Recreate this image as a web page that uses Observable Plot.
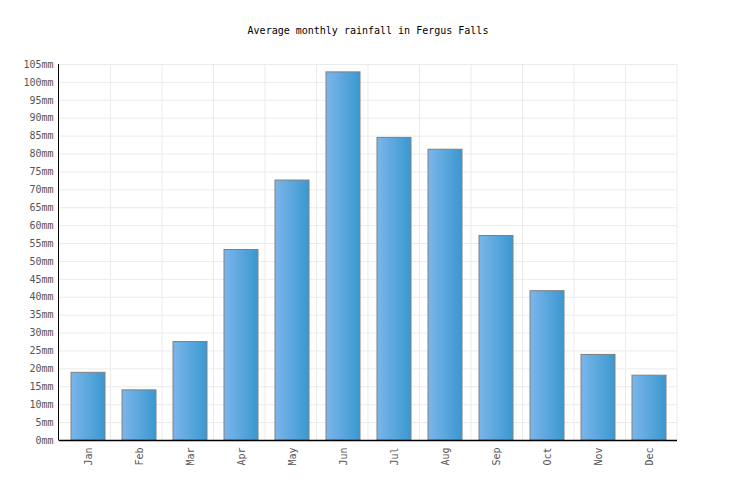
<!DOCTYPE html>
<html>
<head>
<meta charset="utf-8">
<script src="https://cdn.jsdelivr.net/npm/d3@7"></script>
<script src="https://cdn.jsdelivr.net/npm/@observablehq/plot@0.6"></script>
<style>
  body { margin: 0; background: #fff; }
  #title { height: 50px; box-sizing: border-box; padding-top: 25px; line-height: 12px; text-align: center;
           font: 10px "DejaVu Sans Mono", monospace; color: #000; width: 736px; }
</style>
</head>
<body>
<div id="title">Average monthly rainfall in Fergus Falls</div>
<div id="chart"></div>
<script>
const months = ["Jan","Feb","Mar","Apr","May","Jun","Jul","Aug","Sep","Oct","Nov","Dec"];
const rainfall = [18.9, 14.0, 27.5, 53.2, 72.6, 102.8, 84.5, 81.2, 57.1, 41.7, 23.9, 18.1];
const yTicks = d3.range(0, 106, 5);

const data = months.map((m, i) => ({month: m, value: rainfall[i]}));
const NS = "http://www.w3.org/2000/svg";

function gradientDefs() {
  const defs = document.createElementNS(NS, "defs");
  const g = document.createElementNS(NS, "linearGradient");
  g.setAttribute("id", "barGrad");
  g.setAttribute("x1", "0"); g.setAttribute("x2", "1");
  g.setAttribute("y1", "0"); g.setAttribute("y2", "0");
  [["0%", "#7bb6ea"], ["100%", "#3a98d0"]].forEach(([o, c]) => {
    const s = document.createElementNS(NS, "stop");
    s.setAttribute("offset", o); s.setAttribute("stop-color", c);
    g.appendChild(s);
  });
  defs.appendChild(g);
  return defs;
}

function bandGrid(index, scales, values, dims) {
  const g = document.createElementNS(NS, "g");
  const left = dims.marginLeft, right = dims.width - dims.marginRight;
  const top = dims.marginTop, bottom = dims.height - dims.marginBottom;
  const step = (right - left) / months.length;
  for (let k = 1; k <= months.length; k++) {
    const l = document.createElementNS(NS, "line");
    const x = left + step * k;
    l.setAttribute("x1", x); l.setAttribute("x2", x);
    l.setAttribute("y1", top); l.setAttribute("y2", bottom);
    l.setAttribute("stroke", "#ebebeb");
    g.appendChild(l);
  }
  return g;
}

function leftAxisLine(index, scales, values, dims) {
  const l = document.createElementNS(NS, "line");
  const x = dims.marginLeft - 0.5;
  l.setAttribute("x1", x); l.setAttribute("x2", x);
  l.setAttribute("y1", dims.marginTop); l.setAttribute("y2", dims.height - dims.marginBottom + 0.5);
  l.setAttribute("stroke", "#000");
  return l;
}

const chart = Plot.plot({
  width: 736,
  height: 450,
  marginTop: 14,
  marginBottom: 60,
  marginLeft: 59,
  marginRight: 59,
  style: {fontFamily: "DejaVu Sans Mono, monospace", fontSize: "10px", color: "#555", background: "#fff"},
  x: {domain: months, paddingInner: 0.34, paddingOuter: 0.17, label: null},
  y: {domain: [0, 105], label: null},
  marks: [
    gradientDefs,
    Plot.gridY(yTicks, {stroke: "#ebebeb", strokeOpacity: 1}),
    bandGrid,
    Plot.barY(data, {x: "month", y: "value", fill: "url(#barGrad)", stroke: "#808080", strokeWidth: 1}),
    Plot.axisY(yTicks, {tickSize: 0, tickPadding: 6, tickFormat: d => d + "mm", fill: "#555", label: null}),
    Plot.axisX({tickSize: 0, tickPadding: 7, tickRotate: -90, fill: "#555", label: null}),
    Plot.ruleY([0], {stroke: "#000", strokeWidth: 1.5}),
    leftAxisLine
  ]
});
document.getElementById("chart").appendChild(chart);
</script>
</body>
</html>
